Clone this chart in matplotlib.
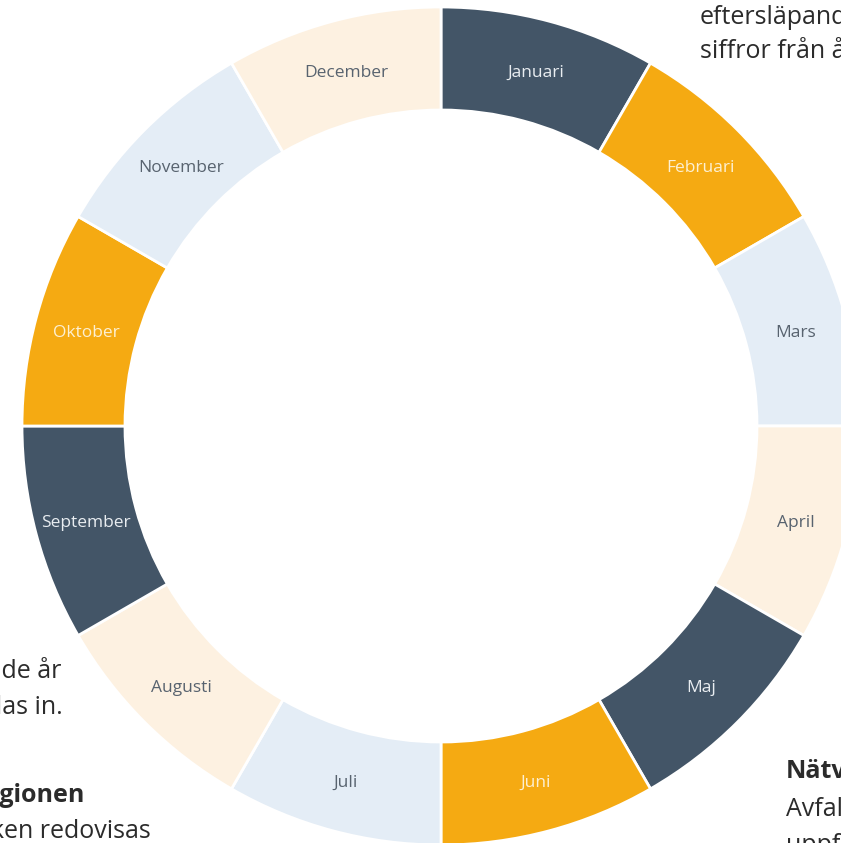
import matplotlib
matplotlib.use("Agg")
import matplotlib.pyplot as plt

months = ["Januari", "Februari", "Mars", "April", "Maj", "Juni",
          "Juli", "Augusti", "September", "Oktober", "November", "December"]
values = [1] * 12
DARK, ORANGE, LBLUE, CREAM = "#435567", "#F5AA12", "#E4EDF6", "#FDF1E1"
seg_colors = [DARK, ORANGE, LBLUE, CREAM] * 3
label_colors = ["#E9EDF1", "#FDF0D2", "#58636F", "#58636F"] * 3

W, H = 841, 843
fig = plt.figure(figsize=(W / 100, H / 100), dpi=100)
ax = fig.add_axes([0, 0, 1, 1])

cx, cy = 441, H - 426
R_out, R_in = 419, 316

wedges, texts = ax.pie(values, labels=months, colors=seg_colors, startangle=90,
                       counterclock=False, radius=R_out, center=(cx, cy),
                       labeldistance=(R_out + R_in) / 2 / R_out,
                       wedgeprops=dict(width=R_out - R_in, edgecolor="white", linewidth=2),
                       textprops=dict(fontsize=12.5, family=["Open Sans", "DejaVu Sans"]))
for t, c in zip(texts, label_colors):
    t.set_ha("center")
    t.set_va("center_baseline")
    t.set_color(c)

ax.set_xlim(0, W)
ax.set_ylim(0, H)
ax.set_aspect("equal")
ax.axis("off")

body = dict(fontsize=18, color="#2B2B2B", family=["Open Sans", "DejaVu Sans"], va="center")
# surrounding page text (cropped by the image edges)
ax.text(700, H - 17, "eftersläpande", ha="left", **body)
ax.text(700, H - 51, "siffror från året", ha="left", **body)
ax.text(61, H - 670, "föregående år", ha="right", **body)
ax.text(63, H - 708, "samlas in.", ha="right", **body)
ax.text(85, H - 795, "Regionen", ha="right", fontweight="bold", **body)
ax.text(151, H - 831, "Statistiken redovisas", ha="right", **body)
ax.text(786, H - 772, "Nätverk", ha="left", fontweight="bold", **body)
ax.text(786, H - 809, "Avfall", ha="left", **body)
ax.text(786, H - 846, "uppföljning", ha="left", **body)

fig.savefig("out.png", dpi=100)
